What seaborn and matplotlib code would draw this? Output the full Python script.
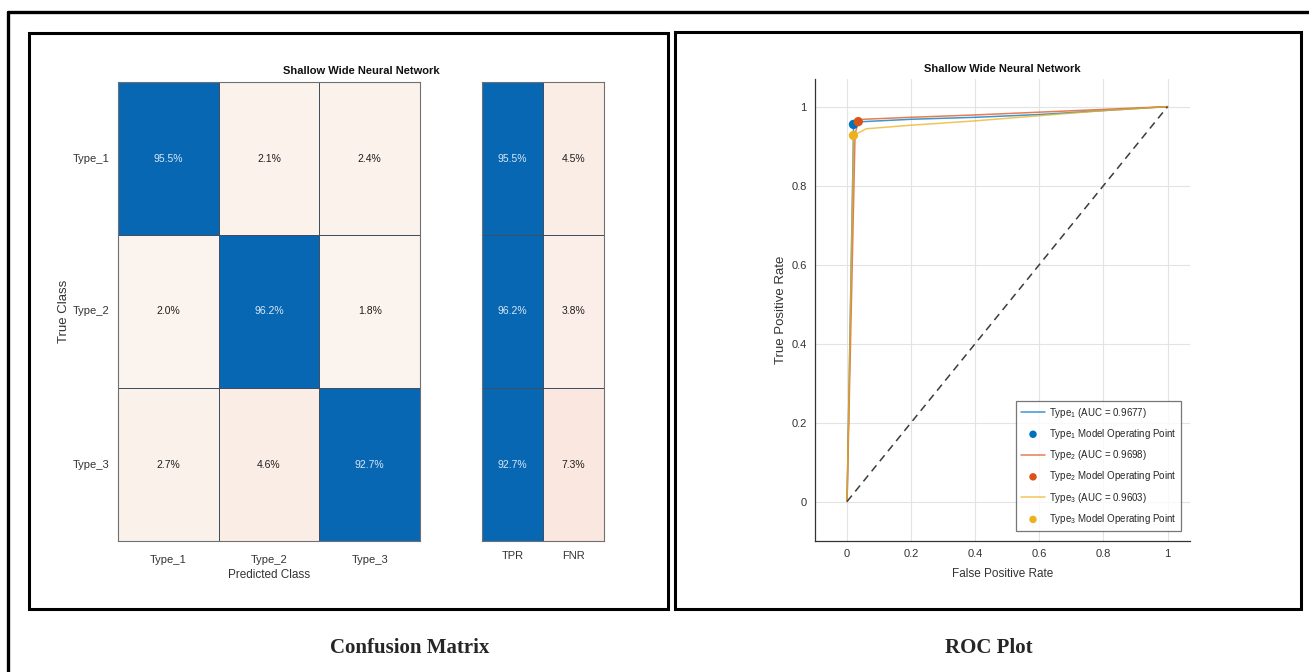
import numpy as np
import pandas as pd
import matplotlib
matplotlib.use("Agg")
import matplotlib.pyplot as plt
from matplotlib.colors import LinearSegmentedColormap, ListedColormap
from matplotlib.patches import Rectangle
from matplotlib.lines import Line2D
import seaborn as sns

# ---- data -------------------------------------------------------------
classes = ["Type_1", "Type_2", "Type_3"]
cm_pct = [[95.5, 2.1, 2.4],
          [2.0, 96.2, 1.8],
          [2.7, 4.6, 92.7]]
tpr_pct = [95.5, 96.2, 92.7]
fnr_pct = [4.5, 3.8, 7.3]
rate_labels = ["TPR", "FNR"]

auc = [0.9677, 0.9698, 0.9603]
roc_fpr = {
    "Type_1": [0.0, 0.020, 0.020, 0.050, 0.20, 0.40, 0.60, 0.80, 1.0],
    "Type_2": [0.0, 0.025, 0.035, 0.050, 0.20, 0.40, 0.60, 0.80, 1.0],
    "Type_3": [0.0, 0.020, 0.020, 0.060, 0.20, 0.40, 0.60, 0.80, 1.0],
}
roc_tpr = {
    "Type_1": [0.0, 0.930, 0.955, 0.962, 0.968, 0.973, 0.980, 0.990, 1.0],
    "Type_2": [0.0, 0.930, 0.962, 0.968, 0.973, 0.979, 0.986, 0.993, 1.0],
    "Type_3": [0.0, 0.900, 0.927, 0.944, 0.953, 0.964, 0.977, 0.990, 1.0],
}
op_fpr = [0.020, 0.035, 0.020]
op_tpr = [0.955, 0.962, 0.927]
roc_ticks = [0, 0.2, 0.4, 0.6, 0.8, 1]

# ---- style ------------------------------------------------------------
sns.set_style("white")
plt.rcParams["font.family"] = ["Liberation Sans", "DejaVu Sans"]
plt.rcParams["mathtext.fontset"] = "custom"
plt.rcParams["mathtext.rm"] = "Liberation Sans"
plt.rcParams["mathtext.it"] = "Liberation Sans"

W, H = 1309, 672
fig = plt.figure(figsize=(W / 100, H / 100), dpi=100)
fig.patch.set_facecolor("white")


def fx(px):
    return px / W


def fy(py):
    return 1 - py / H


def box(x0, y0, x1, y1):
    return [fx(x0), fy(y1), (x1 - x0) / W, (y1 - y0) / H]


blue = "#0767B3"
cell_text_dark = "#1E1E1E"
cell_text_light = "#D9E7F4"
grid_col = "#707070"
peach = LinearSegmentedColormap.from_list("peach", ["#FCF7F2", "#F8DCD2"])
cell_lw = 0.6

# ---- confusion matrix ---------------------------------------------------
cm = np.array(cm_pct)
diag_mask = ~np.eye(3, dtype=bool)
cm_df = pd.DataFrame(cm, index=classes, columns=classes)
annot = np.array([[f"{v:.1f}%" for v in row] for row in cm_pct])

ax_cm = fig.add_axes(box(118, 82, 420, 541))
sns.heatmap(cm_df, mask=~diag_mask, cmap=peach, vmin=0, vmax=12, annot=annot, fmt="",
            annot_kws={"color": cell_text_dark, "fontsize": 7.5}, cbar=False,
            linewidths=cell_lw, linecolor=grid_col, ax=ax_cm)
sns.heatmap(cm_df, mask=diag_mask, cmap=ListedColormap([blue]), annot=annot, fmt="",
            annot_kws={"color": cell_text_light, "fontsize": 7.5}, cbar=False,
            linewidths=cell_lw, linecolor="#3F4F60", ax=ax_cm)
ax_cm.set_yticklabels(classes, rotation=0, fontsize=8, color="#333333")
ax_cm.set_xticklabels(classes, rotation=0, fontsize=8, color="#333333")
ax_cm.tick_params(axis="x", length=0, pad=10)
ax_cm.tick_params(axis="y", length=0, pad=6)
ax_cm.set_xlabel("Predicted Class", fontsize=8.5, color="#333333", labelpad=3)
ax_cm.set_ylabel("True Class", fontsize=9.5, color="#333333", labelpad=2)
for s in ax_cm.spines.values():
    s.set_visible(True)
    s.set_color(grid_col)
    s.set_linewidth(0.8)

# ---- TPR / FNR summary ---------------------------------------------------
rate_df = pd.DataFrame({"TPR": tpr_pct, "FNR": fnr_pct}, index=classes)
rate_annot = np.array([[f"{a:.1f}%", f"{b:.1f}%"] for a, b in zip(tpr_pct, fnr_pct)])
tpr_mask = np.zeros((3, 2), dtype=bool)
tpr_mask[:, 1] = True

ax_rt = fig.add_axes(box(482, 82, 604, 541))
sns.heatmap(rate_df, mask=~tpr_mask, cmap=peach, vmin=0, vmax=12, annot=rate_annot, fmt="",
            annot_kws={"color": cell_text_dark, "fontsize": 7.5}, cbar=False,
            linewidths=cell_lw, linecolor=grid_col, ax=ax_rt)
sns.heatmap(rate_df, mask=tpr_mask, cmap=ListedColormap([blue]), annot=rate_annot, fmt="",
            annot_kws={"color": cell_text_light, "fontsize": 7.5}, cbar=False,
            linewidths=cell_lw, linecolor="#3F4F60", ax=ax_rt)
ax_rt.set_yticks([])
ax_rt.set_ylabel("")
ax_rt.set_xticklabels(rate_labels, rotation=0, fontsize=8, color="#333333")
ax_rt.tick_params(axis="x", length=0, pad=7)
for s in ax_rt.spines.values():
    s.set_visible(True)
    s.set_color(grid_col)
    s.set_linewidth(0.8)

fig.text(fx(361), fy(71), "Shallow Wide Neural Network", ha="center", va="center",
         fontsize=8, fontweight="bold", color="#111111")

# ---- ROC plot --------------------------------------------------------------
line_colors = ["#0072BD", "#D95319", "#EDB120"]
ax_roc = fig.add_axes(box(815, 79, 1190, 541))
ax_roc.grid(True, color="#E3E3E3", linewidth=0.8)
ax_roc.set_axisbelow(True)

for i, c in enumerate(classes):
    df = pd.DataFrame({"fpr": roc_fpr[c], "tpr": roc_tpr[c]})
    label_name = "Type$_{%d}$" % (i + 1)
    sns.lineplot(data=df, x="fpr", y="tpr", sort=False, estimator=None,
                 color=line_colors[i], linewidth=1.1, alpha=0.75,
                 label=f"{label_name} (AUC = {auc[i]:.4f})", ax=ax_roc)
    sns.scatterplot(x=[op_fpr[i]], y=[op_tpr[i]], color=line_colors[i], s=45,
                    edgecolor="none", zorder=5,
                    label=f"{label_name} Model Operating Point", ax=ax_roc)

ax_roc.plot([0, 1], [0, 1], linestyle=(0, (5, 3.5)), color="#3C3C3C",
            linewidth=1.1, label="_diag", zorder=2)

ax_roc.set_xlim(-0.1, 1.07)
ax_roc.set_ylim(-0.1, 1.07)
ax_roc.set_xticks(roc_ticks)
ax_roc.set_yticks(roc_ticks)
ax_roc.set_xticklabels([f"{t:g}" for t in roc_ticks])
ax_roc.set_yticklabels([f"{t:g}" for t in roc_ticks])
ax_roc.tick_params(direction="in", length=3, width=0.8, colors="#333333",
                   labelsize=8, pad=6)
for side in ("top", "right"):
    ax_roc.spines[side].set_visible(False)
for side in ("left", "bottom"):
    ax_roc.spines[side].set_color("#333333")
    ax_roc.spines[side].set_linewidth(0.9)
ax_roc.set_xlabel("False Positive Rate", fontsize=8.5, color="#333333", labelpad=6)
ax_roc.set_ylabel("True Positive Rate", fontsize=9.5, color="#333333", labelpad=3)
ax_roc.set_title("Shallow Wide Neural Network", fontsize=8, fontweight="bold",
                 color="#111111", pad=5)

handles, labels = ax_roc.get_legend_handles_labels()
leg = ax_roc.legend(handles, labels, loc="lower right", bbox_to_anchor=(0.976, 0.022),
                    borderaxespad=0, fontsize=7, frameon=True, fancybox=False,
                    handlelength=2.4, handletextpad=0.4, labelspacing=0.75,
                    borderpad=0.5, markerscale=0.8)
leg.get_frame().set_edgecolor("#555555")
leg.get_frame().set_linewidth(0.9)

# ---- panel frames and captions --------------------------------------------
for (x0, y0, x1, y1) in [(29, 33, 668, 609), (675, 32, 1301, 609)]:
    fig.add_artist(Rectangle((fx(x0), fy(y1)), (x1 - x0) / W, (y1 - y0) / H,
                             transform=fig.transFigure, fill=False,
                             edgecolor="black", linewidth=2.2))
fig.add_artist(Line2D([fx(8), 1.0], [fy(12), fy(12)], transform=fig.transFigure,
                      color="black", linewidth=2.4))
fig.add_artist(Line2D([fx(8), fx(8)], [fy(12), 0.0], transform=fig.transFigure,
                      color="black", linewidth=2.4))

fig.text(fx(410), fy(648), "Confusion Matrix", ha="center", va="center",
         fontsize=15, fontweight="bold", family=["Liberation Serif", "DejaVu Serif"])
fig.text(fx(989), fy(648), "ROC Plot", ha="center", va="center",
         fontsize=15, fontweight="bold", family=["Liberation Serif", "DejaVu Serif"])

fig.savefig("out.png", dpi=100, facecolor="white")
